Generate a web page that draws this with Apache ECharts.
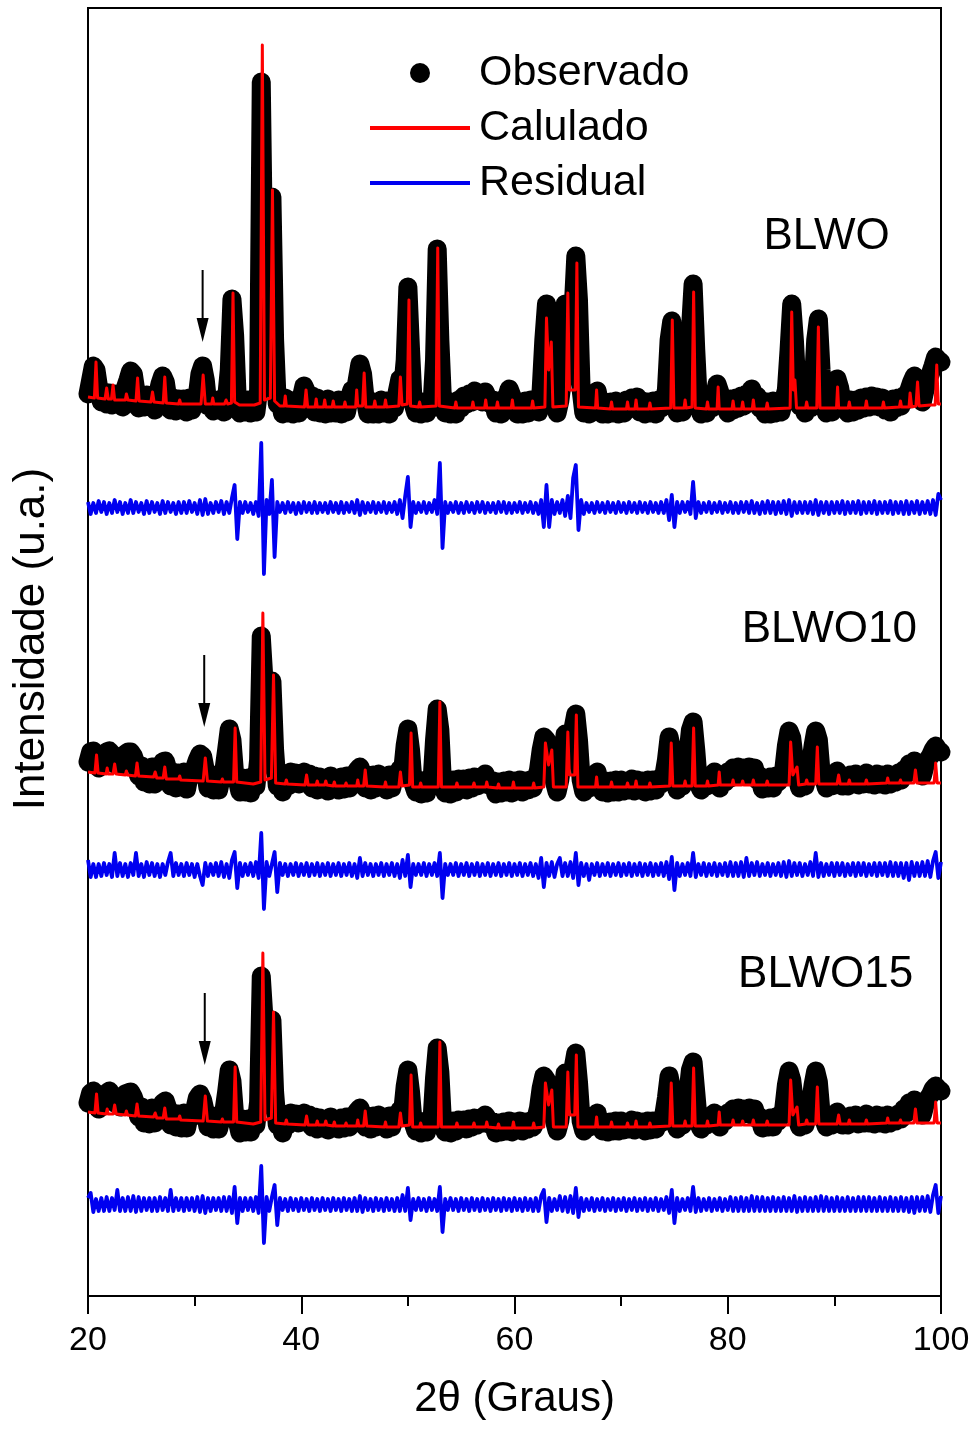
<!DOCTYPE html>
<html><head><meta charset="utf-8">
<script src="https://cdn.jsdelivr.net/npm/echarts/dist/echarts.min.js"></script>
<style>html,body{margin:0;padding:0;background:#fff}#c{width:979px;height:1430px}</style>
</head><body><div id="c"></div>
<script>
// ---------- DATA ----------
// 2θ sampling of the observed / residual profiles
const X_START = 20, X_STEP = 0.25;
const X_TICKS = [20, 40, 60, 80, 100];
const SAMPLES = ['BLWO', 'BLWO10', 'BLWO15'];
const LEGEND_NAMES = ['Observado', 'Calulado', 'Residual'];

// Observed intensity (a.u.), one value per 0.25°, 20°..100°
const OBS_BLWO = [
16,30,44,40, 22,8,18,6, 17,5,16,7, 14,3,22,30, 39,36,18,2, 14,3,15,4, 12,0,14,26, 34,28,10,0, 12,-1,11,0, 11,-2,12,0,
10,14,36,44, 30,4,11,-1, 10,0,11,-2, 12,40,111,75, 10,-3,9,-2, 10,-3,8,-2, 20,328,130,30, 60,213,70,6, 10,-4,12,-3, 9,-4,10,-3,
12,24,18,4, 14,-2,12,-3, 10,-4,11,-3, 9,-3,10,-4, 10,-2,12,20, 14,30,46,36, 10,-4,9,-4, 8,-4,10,-3, 9,-4,10,2, 18,31,20,50,
123,60,6,-3, 9,-4,8,-3, 10,2,50,161, 70,8,-3,9, -4,8,-4,10, 2,14,6,16, 8,19,10,17, 8,18,12,6, 10,-3,9,-4, 10,12,21,14,
2,-4,8,-4, 9,-3,10,4, 9,-2,20,70, 106,96,70,10, -3,9,30,106, 100,82,100,154, 110,20,-3,8, -4,10,14,19, 6,-4,8,-4, 8,-3,9,-4,
7,-3,10,2, 12,4,13,-2, 9,-4,8,-3, 9,-4,10,2, 9,20,70,89, 30,-3,9,-2, 10,20,80,126, 60,6,-4,8, -3,10,2,14, 26,18,4,9,
-3,11,0,12, 2,14,4,16, 8,21,12,14, 2,9,-4,8, -4,9,-3,8, -2,10,20,60, 106,70,20,4, 10,-3,11,2, 20,70,91,40, 10,-3,9,-2,
14,31,22,6, 9,-3,10,-2, 10,0,12,2, 13,3,14,4, 13,3,12,0, 10,-2,11,2, 12,4,14,10, 20,28,34,28, 14,8,20,30, 36,44,53,50,
48];
const OBS_BLWO10 = [
28,38,39,30, 22,30,34,38, 39,36,26,30, 24,32,36,38, 38,34,26,14, 24,8,20,6, 23,6,18,22, 28,29,20,4, 18,2,17,3, 18,1,16,14,
22,30,36,34, 20,2,14,0, 15,0,13,20, 40,61,50,16, 10,-2,12,-2, 12,-3,10,4, 30,154,110,50, 70,109,40,4, 12,-2,14,4, 18,8,17,6,
14,18,8,16, 2,14,0,13, 1,12,-1,14, 2,12,0,13, 1,14,2,15, 8,20,23,16, 2,14,0,15, 2,16,4,14, 0,15,2,16, 12,21,18,45,
61,40,6,-2, 10,-4,9,-3, 12,6,50,81, 60,6,-3,9, -4,10,-2,11, 2,11,0,12, 2,13,4,12, 6,16,10,4, 9,-4,8,-3, 9,-2,10,-3,
9,0,10,-2, 9,0,10,2, 10,20,40,53, 50,34,40,8, -2,10,30,56, 50,44,62,76, 50,10,-2,10, 2,14,12,18, 4,-2,9,-3, 9,-2,10,-2,
10,-1,9,0, 11,-1,10,0, 9,-2,10,-1, 10,0,11,6, 14,30,53,40, 10,0,12,4, 16,34,60,68, 40,6,0,11, 4,13,8,18, 12,2,14,8,
18,12,22,14, 23,14,22,16, 23,14,22,10, 14,1,12,2, 13,2,14,8, 16,20,44,59, 52,30,12,2, 14,4,16,24, 44,59,50,18, 12,2,13,4,
14,19,14,4, 14,4,15,6, 16,5,15,6, 17,6,15,5, 16,6,15,5, 16,6,14,8, 17,10,20,16, 26,22,29,24, 18,14,24,30, 34,40,44,40,
38];
const OBS_BLWO15 = [
27,37,39,31, 21,31,35,37, 39,35,27,29, 23,33,36,37, 38,33,25,13, 23,7,21,6, 22,7,19,21, 27,29,21,5, 17,3,16,2, 17,2,15,13,
20,32,36,30, 18,3,13,1, 14,1,12,19, 38,60,49,15, 9,-3,11,-2, 11,-2,9,5, 28,154,112,48, 68,110,38,5, 11,-3,13,5, 17,9,16,7,
13,17,9,15, 3,13,1,12, 2,11,0,13, 3,11,1,12, 2,13,3,14, 9,19,22,15, 3,13,1,14, 3,15,5,13, 1,14,3,15, 11,20,17,44,
60,38,7,-1, 9,-3,8,-2, 11,7,52,82, 58,7,-2,8, -3,9,-1,10, 3,10,1,11, 3,12,5,11, 7,15,11,5, 8,-3,7,-2, 8,-1,9,-2,
8,1,9,-1, 8,1,9,3, 11,22,42,54, 50,35,41,9, -1,9,31,57, 50,45,62,77, 48,9,-1,9, 3,13,13,17, 5,-1,8,-2, 8,-1,9,-1,
9,0,8,1, 10,0,9,1, 8,-1,9,0, 9,1,10,7, 15,32,54,40, 9,1,11,5, 15,35,60,68, 38,7,1,10, 5,12,9,17, 11,3,13,9,
17,13,21,15, 22,15,21,17, 22,15,21,11, 13,2,11,3, 12,3,13,9, 15,21,45,59, 50,28,11,3, 13,5,15,25, 45,59,48,17, 11,3,12,5,
13,18,13,5, 13,5,14,7, 15,6,14,7, 16,7,14,6, 15,7,14,6, 15,7,13,9, 16,11,21,17, 27,23,30,25, 19,15,25,31, 35,41,44,41,
39];

// Calculated profile: [2θ, intensity]
const CALC_BLWO = [
[20,13],[20.6,12],[20.75,48],[20.9,12],[21.6,11],[21.75,22],[21.9,11],[22.2,11],[22.35,25],[22.5,10],
[23.5,10],[23.6,16],[23.75,10],[24.5,9],[24.65,32],[24.8,9],[25.9,8],[26.05,18],[26.2,8],[27.05,7],[27.2,33],[27.35,7],
[28.5,6],[28.6,10],[28.7,6],[30.6,6],[30.8,35],[31.0,6],[31.6,6],[31.7,12],[31.8,6],[32.8,6],[32.95,10],[33.1,6],
[33.45,7],[33.6,117],[33.75,8],[34.2,5],[35.6,5],[36.15,7],[36.35,365],[36.55,10],[37.1,12],[37.3,220],[37.5,9],
[38.0,4],[38.4,4],[38.5,14],[38.6,4],[40.3,3],[40.45,20],[40.6,3],[41.3,3],[41.4,11],[41.5,3],[42.1,3],[42.2,10],[42.3,3],
[42.9,3],[43.0,9],[43.1,3],[44.0,3],[44.1,8],[44.2,3],[45.1,3],[45.2,20],[45.3,4],[45.75,4],[45.9,37],[46.05,3],
[46.8,3],[46.9,9],[47.0,3],[47.8,3],[47.9,10],[48.0,3],[49.15,4],[49.3,33],[49.45,5],[49.95,6],[50.1,110],[50.25,4],
[51.0,3],[51.1,8],[51.2,3],[52.65,4],[52.8,162],[52.95,4],[54.4,2],[54.5,8],[54.6,2],[56.0,2],[56.1,8],[56.2,2],
[57.2,2],[57.3,10],[57.4,2],[58.3,2],[58.4,8],[58.5,2],[59.7,2],[59.8,10],[59.9,2],[61.6,2],[61.7,9],[61.8,2],
[62.85,3],[63.0,92],[63.2,40],[63.45,68],[63.6,3],[64.85,4],[65.0,117],[65.15,20],[65.7,20],[65.85,147],[66.0,3],
[67.6,2],[67.7,20],[67.8,2],[69.0,1],[69.1,8],[69.2,1],[70.5,1],[70.6,8],[70.7,1],[71.3,1],[71.4,10],[71.5,1],
[72.6,1],[72.7,7],[72.8,1],[74.65,2],[74.8,90],[74.95,2],[75.9,2],[76.0,10],[76.1,2],[76.65,3],[76.8,118],[76.95,2],
[78.0,1],[78.1,8],[78.2,1],[79.0,1],[79.1,23],[79.2,1],[80.4,1],[80.5,9],[80.6,1],[81.3,1],[81.4,8],[81.5,1],
[82.3,1],[82.4,10],[82.5,1],[83.6,1],[83.7,7],[83.8,1],[85.85,2],[86.0,98],[86.15,20],[86.3,30],[86.45,2],
[87.3,2],[87.4,8],[87.5,2],[88.35,2],[88.5,83],[88.65,2],[90.2,2],[90.3,23],[90.4,2],[91.3,2],[91.4,8],[91.5,2],
[92.9,2],[93.0,9],[93.1,2],[94.5,2],[94.6,8],[94.7,2],[96.1,3],[96.2,9],[96.3,3],[97.0,3],[97.1,17],[97.25,3],
[97.65,4],[97.8,28],[97.95,4],[99.0,5],[99.45,5],[99.6,45],[99.75,6],[100,6]];
const CALC_BLWO10 = [
[20,18],[20.65,17],[20.8,35],[20.95,17],[21.7,16],[21.8,22],[21.9,16],[22.35,16],[22.5,26],[22.65,16],
[23.5,15],[23.6,19],[23.7,15],[24.45,14],[24.6,27],[24.75,14],[26.15,13],[26.3,18],[26.45,12],[27.05,12],[27.2,23],[27.35,11],
[28.5,11],[28.6,14],[28.7,10],[30.8,9],[31.0,32],[31.2,9],[32.5,8],[32.6,11],[32.7,8],[33.65,8],[33.8,62],[33.95,8],
[35.5,6],[36.2,8],[36.4,177],[36.6,10],[37.2,12],[37.4,115],[37.6,7],[38.5,6],[38.6,10],[38.7,6],
[40.35,5],[40.5,15],[40.65,5],[41.4,5],[41.5,9],[41.6,5],[42.2,5],[42.3,9],[42.4,5],[43.0,4],[43.1,8],[43.2,4],
[44.1,4],[44.2,7],[44.3,4],[45.2,4],[45.3,10],[45.4,4],[45.85,4],[46.0,20],[46.15,4],[47.8,3],[47.9,8],[48.0,3],
[49.15,3],[49.3,18],[49.45,4],[50.15,5],[50.3,57],[50.45,3],[51.1,3],[51.2,7],[51.3,3],[52.85,3],[53.0,88],[53.15,3],
[54.5,3],[54.6,7],[54.7,3],[56.1,3],[56.2,7],[56.3,3],[57.3,3],[57.4,8],[57.5,3],[58.4,2],[58.5,6],[58.6,2],
[59.8,2],[59.9,8],[60.0,2],[61.7,2],[61.8,7],[61.9,2],[62.75,3],[62.9,47],[63.2,25],[63.5,40],[63.65,3],
[64.85,3],[65.0,58],[65.15,15],[65.65,15],[65.8,75],[65.95,3],[67.6,3],[67.7,13],[67.8,3],[69.0,3],[69.1,8],[69.2,3],
[70.5,3],[70.6,7],[70.7,3],[71.3,3],[71.4,9],[71.5,3],[72.6,3],[72.7,7],[72.8,3],[74.55,4],[74.7,47],[74.85,4],
[75.9,4],[76.0,9],[76.1,4],[76.65,4],[76.8,62],[76.95,4],[78.0,4],[78.1,9],[78.2,4],[79.1,5],[79.2,18],[79.3,5],
[80.4,5],[80.5,10],[80.6,5],[81.3,5],[81.4,9],[81.5,5],[82.3,5],[82.4,10],[82.5,5],[83.6,5],[83.7,9],[83.8,5],
[85.75,5],[85.9,48],[86.1,15],[86.5,23],[86.65,5],[87.3,6],[87.4,10],[87.5,6],[88.25,6],[88.4,43],[88.55,6],
[90.25,6],[90.4,15],[90.55,6],[91.3,6],[91.4,10],[91.5,6],[92.9,6],[93.0,10],[93.1,6],[94.9,7],[95.0,12],[95.1,7],
[96.1,7],[96.2,10],[96.3,7],[97.45,7],[97.6,20],[97.75,7],[99.35,7],[99.5,27],[99.65,7],[100,7]];
const CALC_BLWO15 = [
[20,18],[20.65,17],[20.8,36],[20.95,17],[21.7,16],[21.8,21],[21.9,16],[22.35,16],[22.5,25],[22.65,16],
[23.5,15],[23.6,19],[23.7,15],[24.45,14],[24.6,26],[24.75,14],[26.15,13],[26.3,17],[26.45,12],[27.05,12],[27.2,22],[27.35,11],
[28.5,11],[28.6,14],[28.7,10],[30.8,9],[31.0,34],[31.2,9],[32.5,8],[32.6,11],[32.7,8],[33.65,8],[33.8,63],[33.95,8],
[35.5,6],[36.2,8],[36.4,177],[36.6,10],[37.2,12],[37.4,118],[37.6,7],[38.5,6],[38.6,10],[38.7,6],
[40.35,5],[40.5,14],[40.65,5],[41.4,5],[41.5,9],[41.6,5],[42.2,5],[42.3,9],[42.4,5],[43.0,4],[43.1,8],[43.2,4],
[44.1,4],[44.2,7],[44.3,4],[45.2,4],[45.3,10],[45.4,4],[45.85,4],[46.0,19],[46.15,4],[47.8,3],[47.9,8],[48.0,3],
[49.15,3],[49.3,17],[49.45,4],[50.15,5],[50.3,55],[50.45,3],[51.1,3],[51.2,7],[51.3,3],[52.85,3],[53.0,88],[53.15,3],
[54.5,3],[54.6,7],[54.7,3],[56.1,3],[56.2,7],[56.3,3],[57.3,3],[57.4,8],[57.5,3],[58.4,2],[58.5,6],[58.6,2],
[59.8,2],[59.9,8],[60.0,2],[61.7,2],[61.8,7],[61.9,2],[62.75,3],[62.9,47],[63.2,25],[63.5,40],[63.65,3],
[64.85,3],[65.0,58],[65.15,15],[65.65,15],[65.8,75],[65.95,3],[67.6,3],[67.7,13],[67.8,3],[69.0,3],[69.1,8],[69.2,3],
[70.5,3],[70.6,7],[70.7,3],[71.3,3],[71.4,9],[71.5,3],[72.6,3],[72.7,7],[72.8,3],[74.55,4],[74.7,47],[74.85,4],
[75.9,4],[76.0,9],[76.1,4],[76.65,4],[76.8,62],[76.95,4],[78.0,4],[78.1,9],[78.2,4],[79.1,5],[79.2,18],[79.3,5],
[80.4,5],[80.5,10],[80.6,5],[81.3,5],[81.4,9],[81.5,5],[82.3,5],[82.4,10],[82.5,5],[83.6,5],[83.7,9],[83.8,5],
[85.75,5],[85.9,50],[86.1,15],[86.5,23],[86.65,5],[87.3,6],[87.4,10],[87.5,6],[88.25,6],[88.4,43],[88.55,6],
[90.25,6],[90.4,15],[90.55,6],[91.3,6],[91.4,10],[91.5,6],[92.9,6],[93.0,10],[93.1,6],[94.9,7],[95.0,12],[95.1,7],
[96.1,7],[96.2,10],[96.3,7],[97.45,7],[97.6,21],[97.75,7],[99.35,7],[99.5,28],[99.65,7],[100,7]];

// Residual (obs - calc), one value per 0.25°, 20°..100°
const RES_BLWO = [
6,-6,5,-5, 7,-4,6,-6, 5,-5,8,-4, 6,-6,5,-5, 8,-5,6,-4, 5,-6,7,-5, 6,-4,5,-6, 7,-5,6,-4, 5,-6,6,-5, 6,-5,7,-4,
5,-6,8,-7, 9,-6,5,-5, 6,-4,7,-6, 6,-5,10,23, -31,6,-5,6, -4,5,-6,6, -8,65,-66,8, -6,28,-49,6, -4,5,-5,6, -4,5,-6,5,
-5,6,-4,5, -5,6,-5,5, -4,5,-5,6, -4,5,-5,6, -5,5,-4,6, -5,8,-7,6, -5,5,-4,6, -5,5,-4,6, -5,5,-4,6, -6,8,-10,12,
31,-19,6,-5, 5,-4,6,-5, 5,-4,8,-6, 45,-40,6,-5, 5,-4,6,-5, 5,-5,6,-4, 5,-5,6,-4, 6,-5,5,-4, 5,-5,6,-4, 6,-5,5,-5,
5,-4,6,-5, 5,-4,6,-5, 5,-6,8,-19, 23,-19,8,-6, 6,-5,8,-8, 12,-10,30,43, -22,8,-6,5, -4,5,-5,6, -4,5,-5,6, -4,5,-5,6,
-4,5,-5,6, -4,5,-5,6, -4,5,-5,6, -4,5,-5,6, -5,8,-12,13, -19,6,-5,6, -4,6,-6,26, -10,6,-5,5, -4,6,-5,5, -4,6,-5,5,
-4,6,-5,5, -5,6,-4,6, -5,7,-5,5, -6,6,-5,7, -5,6,-6,6, -5,7,-6,8, -8,6,-5,6, -5,6,-5,6, -6,8,-7,6, -5,6,-6,6,
-5,6,-5,7, -6,6,-5,6, -5,7,-6,6, -5,6,-5,7, -6,6,-5,6, -5,7,-6,6, -5,6,-6,7, -6,6,-5,7, -6,6,-5,7, -6,8,-7,14,
8];
const RES_BLWO10 = [
10,-7,6,-7, 6,-6,7,-5, 6,-7,17,-6, 7,-6,6,-7, 7,-5,17,-6, 6,-7,8,-5, 7,-6,6,-7, 6,-5,8,17, -6,7,-5,6, -6,7,-5,6,
-7,6,-6,-15, 7,-6,6,-5, 7,-6,8,-7, 6,-8,10,18, -18,7,-6,6, -5,7,-6,8, -8,37,-39,8, -6,6,18,-22, 7,-5,6,-6, 6,-5,7,-6,
6,-5,7,-6, 6,-5,7,-6, 6,-5,7,-6, 6,-5,7,-6, 6,-5,7,-6, 6,-8,12,-6, 7,-5,6,-6, 6,-5,7,-6, 6,-5,7,-6, 6,-8,10,-6,
15,-17,6,-5, 6,-5,7,-6, 6,-5,7,-6, 17,-28,6,-5, 6,-5,7,-6, 6,-5,7,-6, 6,-5,7,-6, 6,-5,7,-6, 6,-5,7,-6, 6,-5,7,-6,
6,-5,7,-6, 6,-5,7,-6, 6,-8,12,-17, 7,-6,8,-7, 6,12,-6,7, -6,8,-8,17, -15,7,-6,6, -10,6,-5,7, -6,6,-5,7, -6,6,-5,7,
-6,6,-5,7, -6,6,-5,7, -6,6,-5,7, -6,6,-5,7, -6,8,-9,13, -20,7,-6,6, -5,7,-6,17, -7,6,-5,7, -6,6,-5,7, -6,6,-5,7,
-6,8,-6,7, -6,8,-7,12, -6,7,-5,8, -6,6,-5,7, -6,6,-5,7, -6,8,-7,9, -6,7,-5,7, -6,6,-5,8, -6,17,-7,7, -6,6,-5,7,
-6,7,-5,7, -6,6,-5,7, -6,7,-5,7, -6,6,-5,7, -6,7,-5,7, -6,8,-6,7, -6,7,-8,7, -10,8,-6,7, -6,8,-6,9, -7,9,18,-8,
8];
const RES_BLWO15 = [
7,12,-7,6, -6,7,-6,8, -6,7,-5,15, -6,7,-6,8, -6,9,-7,8, -6,7,-5,7, -6,7,-6,8, -5,7,-6,15, -6,7,-5,7, -6,7,-5,7,
-6,8,-7,9, -8,7,-6,7, -5,7,-6,8, -6,8,-8,18, -18,7,-6,7, -5,7,-6,8, -8,39,-38,8, -6,8,20,-20, 7,-5,6,-6, 7,-5,6,-6,
7,-5,6,-6, 7,-5,6,-6, 7,-5,6,-6, 7,-5,6,-6, 7,-5,6,-6, 7,-6,9,-7, 7,-5,6,-6, 7,-5,6,-6, 7,-5,6,-6, 7,-6,10,-6,
17,-15,6,-5, 7,-5,6,-6, 7,-5,6,-6, 18,-27,6,-5, 7,-5,6,-6, 7,-5,6,-6, 7,-5,6,-6, 7,-5,6,-6, 7,-5,6,-6, 7,-5,6,-6,
7,-5,6,-6, 7,-5,6,-6, 7,-6,9,15, -17,7,-6,6, -5,9,-6,8, -7,9,-8,17, -12,7,-6,6, -5,7,-6,6, -5,7,-6,6, -5,7,-6,6,
-5,7,-6,6, -5,7,-6,6, -5,7,-6,6, -5,7,-6,6, -5,8,-8,15, -18,7,-6,6, -5,7,-6,18, -7,7,-6,6, -5,7,-6,6, -5,7,-6,6,
-5,8,-6,7, -6,8,-6,7, -6,9,-6,8, -6,8,-6,7, -6,8,-6,7, -6,8,-6,7, -6,9,-7,7, -6,8,-6,7, -6,8,-6,9, -6,8,-6,7,
-6,8,-6,7, -6,8,-6,7, -6,8,-6,8, -6,8,-6,7, -6,8,-6,7, -6,8,-6,7, -6,8,-6,7, -7,8,-8,8, -6,8,-6,9, -7,10,20,-8,
9];

// Vertical offsets of the stacked curves (a.u.)
const OFFSET_PATTERN = [886, 506, 166];
const OFFSET_RESIDUAL = [788, 426, 91];

// Annotations: sample label (2θ of right edge, height above pattern) and arrow (2θ, from, to)
const LABEL_POS = [[95.2, 173], [97.75, 160], [97.4, 155]];
const ARROWS = [[30.75, 140, 68], [30.9, 135, 63], [30.95, 137, 65]];

// ---------- CHART ----------
const OBS = [OBS_BLWO, OBS_BLWO10, OBS_BLWO15];
const CALC = [CALC_BLWO, CALC_BLWO10, CALC_BLWO15];
const RES = [RES_BLWO, RES_BLWO10, RES_BLWO15];
const FONT = '"Liberation Sans", Arial, sans-serif';

const chart = echarts.init(document.getElementById('c'), null, {renderer: 'canvas'});
const series = [];
for (let k = 0; k < 3; k++) {
  series.push({
    name: 'Observado', type: 'line', symbol: 'none', z: 2, silent: true,
    color: '#000',
    lineStyle: {color: '#000', width: 19, cap: 'round', join: 'round'},
    data: OBS[k].map((v, i) => [X_START + i * X_STEP, v + OFFSET_PATTERN[k]])
  });
  series.push({
    name: 'Calulado', type: 'line', symbol: 'none', z: 3, silent: true,
    color: '#f00',
    lineStyle: {color: '#f00', width: 3, join: 'round'},
    data: CALC[k].map(p => [p[0], p[1] + OFFSET_PATTERN[k]])
  });
  series.push({
    name: 'Residual', type: 'line', symbol: 'none', z: 3, silent: true,
    color: '#0000f0',
    lineStyle: {color: '#0000f0', width: 3.8, join: 'round'},
    data: RES[k].map((v, i) => [X_START + i * X_STEP, v + OFFSET_RESIDUAL[k]])
  });
}

const barIcon = 'path://M0,0L100,0L100,4L0,4Z';
chart.setOption({
  animation: false,
  backgroundColor: '#fff',
  grid: {left: 88, right: 38, top: 8, bottom: 134, show: true, borderColor: '#000', borderWidth: 2,
         backgroundColor: 'transparent', containLabel: false, outerBoundsMode: 'none'},
  legend: {
    orient: 'vertical', left: 365, top: 46, itemWidth: 100, itemHeight: 20, itemGap: 11,
    symbolKeepAspect: true, selectedMode: false,
    textStyle: {fontSize: 43, fontFamily: FONT, color: '#000', lineHeight: 44, padding: [0, 0, 0, 4]},
    itemStyle: {borderWidth: 0},
    data: [
      {name: LEGEND_NAMES[0], icon: 'circle'},
      {name: LEGEND_NAMES[1], icon: barIcon},
      {name: LEGEND_NAMES[2], icon: barIcon}
    ]
  },
  xAxis: {
    type: 'value', min: X_TICKS[0], max: X_TICKS[X_TICKS.length - 1], interval: 20,
    name: '2θ (Graus)', nameLocation: 'middle', nameGap: 82,
    nameTextStyle: {fontSize: 42, fontFamily: FONT, color: '#000'},
    axisLine: {show: true, lineStyle: {color: '#000', width: 2}},
    axisTick: {show: true, length: 18, lineStyle: {color: '#000', width: 2}},
    minorTick: {show: true, splitNumber: 2, length: 10, lineStyle: {color: '#000', width: 2}},
    axisLabel: {fontSize: 34, fontFamily: FONT, color: '#000', margin: 28, showMinLabel: true, showMaxLabel: true, hideOverlap: false},
    splitLine: {show: false}, minorSplitLine: {show: false}
  },
  yAxis: {
    type: 'value', min: 0, max: 1288,
    name: 'Intensidade (u.a.)', nameLocation: 'middle', nameGap: 34,
    nameTextStyle: {fontSize: 44, fontFamily: FONT, color: '#000', padding: [0, 0, 0, 26]},
    axisLine: {show: false}, axisTick: {show: false}, axisLabel: {show: false}, splitLine: {show: false}
  },
  series: series
});

// annotations (labels + arrows) placed through the axes
const graphics = [];
for (let k = 0; k < 3; k++) {
  const lp = chart.convertToPixel({gridIndex: 0}, [LABEL_POS[k][0], LABEL_POS[k][1] + OFFSET_PATTERN[k]]);
  graphics.push({type: 'text', z: 10, style: {text: SAMPLES[k], x: lp[0], y: lp[1], font: '44px ' + FONT,
    fill: '#000', textAlign: 'right', textVerticalAlign: 'middle', align: 'right', verticalAlign: 'middle'}});
  const a0 = chart.convertToPixel({gridIndex: 0}, [ARROWS[k][0], ARROWS[k][1] + OFFSET_PATTERN[k]]);
  const a1 = chart.convertToPixel({gridIndex: 0}, [ARROWS[k][0], ARROWS[k][2] + OFFSET_PATTERN[k]]);
  graphics.push({type: 'line', z: 10, shape: {x1: a0[0], y1: a0[1], x2: a1[0], y2: a1[1] - 12},
    style: {stroke: '#000', lineWidth: 2}});
  graphics.push({type: 'polygon', z: 10, shape: {points: [[a1[0] - 6, a1[1] - 24], [a1[0] + 6, a1[1] - 24], [a1[0], a1[1]]]},
    style: {fill: '#000'}});
}
chart.setOption({graphic: graphics});
</script></body></html>
